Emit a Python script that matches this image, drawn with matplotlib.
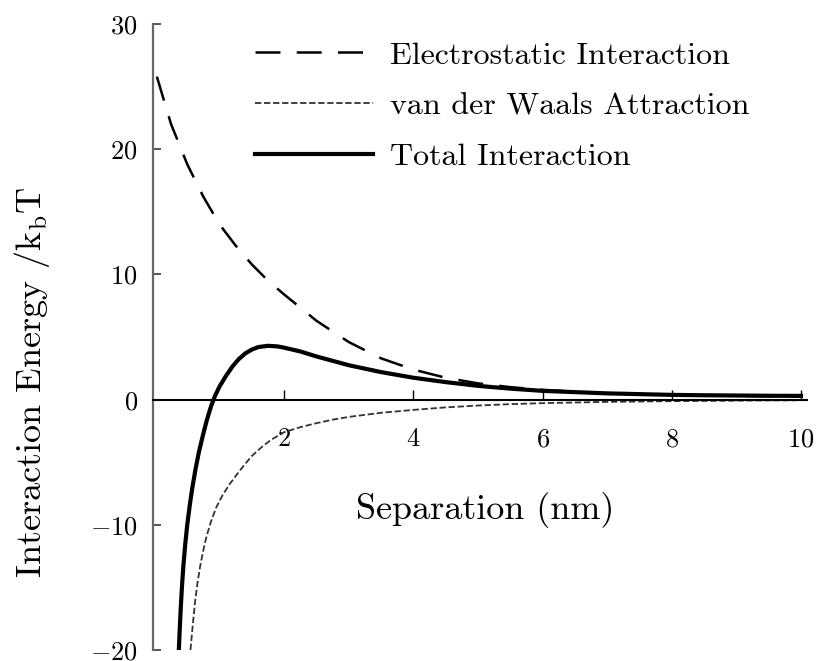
import matplotlib
matplotlib.use("Agg")
import matplotlib.pyplot as plt

plt.rcParams["font.family"] = "serif"
plt.rcParams["font.serif"] = ["cmr10", "DejaVu Serif"]
plt.rcParams["mathtext.fontset"] = "cm"
plt.rcParams["axes.formatter.use_mathtext"] = True

# separation (nm) and energies (kT)
x_es = [0.03, 0.25, 0.5, 0.75, 1.0, 1.25, 1.5, 1.75, 2.0, 2.5, 3.0, 3.5, 4.0,
        4.5, 5.0, 5.5, 6.0, 7.0, 8.0, 9.0, 10.0]
e_es = [25.8, 22.0, 18.8, 16.2, 14.0, 12.3, 10.8, 9.5, 8.4, 6.3, 4.6, 3.3, 2.4,
        1.75, 1.3, 1.0, 0.78, 0.5, 0.38, 0.3, 0.25]

x_vdw = [0.55, 0.58, 0.62, 0.66, 0.70, 0.75, 0.80, 0.87, 0.95, 1.05, 1.15,
         1.25, 1.37, 1.5, 1.65, 1.8, 2.0, 2.25, 2.5, 2.75, 3.0, 3.5, 4.0, 4.5,
         5.0, 5.5, 6.0, 7.0, 8.0, 9.0, 10.0]
e_vdw = [-20.0, -18.3, -16.2, -14.6, -13.3, -12.0, -10.9, -9.7, -8.6, -7.6,
         -6.8, -6.1, -5.3, -4.5, -3.8, -3.2, -2.6, -2.2, -1.88, -1.6, -1.38,
         -1.05, -0.82, -0.62, -0.47, -0.36, -0.28, -0.18, -0.12, -0.08, -0.05]

x_tot = [0.37, 0.385, 0.40, 0.42, 0.44, 0.47, 0.50, 0.54, 0.58, 0.63, 0.68,
         0.74, 0.80, 0.87, 0.93, 1.0, 1.1, 1.2, 1.3, 1.4, 1.5, 1.6, 1.75, 1.9,
         2.0, 2.25, 2.5, 2.75, 3.0, 3.5, 4.0, 4.5, 5.0, 5.5, 6.0, 7.0, 8.0,
         8.5, 9.0, 9.5, 10.0]
e_tot = [-20.0, -18.2, -16.6, -14.8, -13.3, -11.5, -10.0, -8.4, -7.0, -5.5,
         -4.2, -2.9, -1.7, -0.5, 0.3, 1.05, 1.9, 2.65, 3.25, 3.7, 4.0, 4.2,
         4.3, 4.25, 4.15, 3.85, 3.45, 3.1, 2.75, 2.2, 1.75, 1.4, 1.1, 0.88,
         0.7, 0.5, 0.38, 0.35, 0.33, 0.31, 0.3]

fig = plt.figure(figsize=(8.27, 6.61), dpi=100)
ax = fig.add_axes([0.185, 0.0166, 0.7914, 0.947])

ax.plot(x_es, e_es, color="black", lw=1.8, dashes=(10, 6.5),
        label="Electrostatic Interaction")
ax.plot(x_vdw, e_vdw, color="#333333", lw=1.3, dashes=(3.5, 1.5),
        label="van der Waals Attraction")
ax.plot(x_tot, e_tot, color="black", lw=3, label="Total Interaction")

ax.set_xlim(-0.03, 10.1)
ax.set_ylim(-20, 30)

for side in ("top", "right"):
    ax.spines[side].set_visible(False)
ax.spines["bottom"].set_position(("data", 0))
ax.spines["bottom"].set_linewidth(1.5)
ax.spines["left"].set_color("#666666")
ax.spines["left"].set_linewidth(1.6)

ax.set_xticks([2, 4, 6, 8, 10])
ax.set_yticks([-20, -10, 0, 10, 20, 30])
ax.tick_params(axis="x", direction="in", length=7, width=1, pad=20, labelsize=19)
ax.tick_params(axis="y", direction="in", length=6, width=1.4, pad=11,
               labelsize=19, color="#555555")

ax.set_xlabel("Separation (nm)", fontsize=26)
ax.xaxis.set_label_coords(0.507, 0.252)
ax.set_ylabel(r"Interaction Energy /$\mathrm{k_b}$T", fontsize=26)
ax.yaxis.set_label_coords(-0.154, 0.428)

ax.legend(loc="upper left", bbox_to_anchor=(0.136, 0.993), frameon=False,
          fontsize=23, handlelength=3.7, handletextpad=0.53, labelspacing=0.7,
          borderaxespad=0)

fig.savefig("out.png", dpi=100)
